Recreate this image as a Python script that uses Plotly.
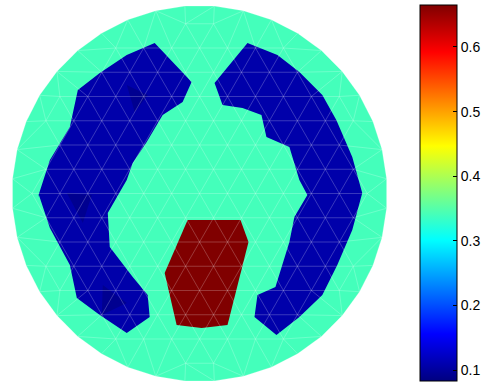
import numpy as np
import plotly.graph_objects as go
from plotly.colors import sample_colorscale

# ---- data (phantom coordinates: disk radius 188, centre at 0,0, y up) ----
disk_radius = 188
mesh_spacing = 28
boundary_nodes = 40

background_value = 0.34
lung_value = 0.107
dark_value = 0.092
heart_value = 0.665
cmin, cmax = 0.083, 0.665
tick_vals = [0.1, 0.2, 0.3, 0.4, 0.5, 0.6]
tick_text = ["0.1", "0.2", "0.3", "0.4", "0.5", "0.6"]

left_lung_x = [-45, -8, -17, -37, -53, -67, -73, -92, -90, -67, -52, -50, -73, -100, -123, -130, -150, -161, -162, -150, -130, -122, -100, -73]
left_lung_y = [150.5, 111.5, 91.5, 78.5, 51.5, 30.5, 13.5, -19.5, -53.5, -83.5, -101.5, -123.5, -139.5, -121.5, -104.5, -71.5, -34.5, -1.5, -3.5, 33.5, 66.5, 103.5, 120.5, 138.5]

right_lung_x = [48, 78, 100, 123, 137, 153, 163, 153, 138, 123, 100, 77, 55, 58, 76, 90, 95, 108, 100, 90, 67, 62, 43, 23, 15]
right_lung_y = [150.5, 138.5, 121.5, 98.5, 73.5, 36.5, 0.5, -36.5, -71.5, -101.5, -123.5, -141.5, -123.5, -101.5, -93.5, -48.5, -23.5, -1.5, 13.5, 46.5, 56.5, 78.5, 85.5, 88.5, 110.5]

heart_x = [-12, 41, 49, 28, 2, -23, -35]
heart_y = [-26.5, -26.5, -48.5, -131.5, -134.5, -131.5, -79.5]

dark_tris_x = [[-73, -52, -65], [-133, -108, -117], [-97, -73, -98]]
dark_tris_y = [[108.5, 98.5, 81.5], [0.5, -1.5, -29.5], [-91.5, -109.5, -121.5]]

# ---- colour scale (MATLAB-style jet) ----
jet = [[0.0, "rgb(0,0,128)"], [0.125, "rgb(0,0,255)"], [0.375, "rgb(0,255,255)"],
       [0.625, "rgb(255,255,0)"], [0.875, "rgb(255,0,0)"], [1.0, "rgb(128,0,0)"]]


def col(v):
    return sample_colorscale(jet, [(v - cmin) / (cmax - cmin)])[0]


# ---- mesh: hex lattice + boundary nodes, Delaunay (Bowyer-Watson) ----
h = mesh_spacing
pts = []
for j in range(-10, 11):
    yy = j * h * np.sqrt(3) / 2
    for i in range(-10, 11):
        xx = i * h + (j % 2) * h / 2
        if np.hypot(xx, yy) < disk_radius - 0.6 * h:
            pts.append((xx, yy))
for i in range(boundary_nodes):
    a = 2 * np.pi * i / boundary_nodes + np.pi / boundary_nodes
    pts.append((disk_radius * np.cos(a), disk_radius * np.sin(a)))
pts = np.array(pts)
# tiny deterministic perturbation to avoid degenerate cocircular sets
pts = pts + np.array([[1e-4 * (k % 7), 1e-4 * (k % 5)] for k in range(len(pts))])

P = list(map(tuple, pts))
S = 5000.0
P += [(-S, -S), (S, -S), (0.0, S)]
N = len(pts)


def circum(t):
    (ax, ay), (bx, by), (cx, cy) = P[t[0]], P[t[1]], P[t[2]]
    d = 2 * (ax * (by - cy) + bx * (cy - ay) + cx * (ay - by))
    ux = ((ax * ax + ay * ay) * (by - cy) + (bx * bx + by * by) * (cy - ay) + (cx * cx + cy * cy) * (ay - by)) / d
    uy = ((ax * ax + ay * ay) * (cx - bx) + (bx * bx + by * by) * (ax - cx) + (cx * cx + cy * cy) * (bx - ax)) / d
    return ux, uy, (ax - ux) ** 2 + (ay - uy) ** 2


tris = {(N, N + 1, N + 2): circum((N, N + 1, N + 2))}
for k in range(N):
    px, py = P[k]
    bad = [t for t, (ux, uy, r2) in tris.items() if (px - ux) ** 2 + (py - uy) ** 2 < r2]
    edges = {}
    for t in bad:
        for e in ((t[0], t[1]), (t[1], t[2]), (t[2], t[0])):
            key = tuple(sorted(e))
            edges[key] = edges.get(key, 0) + 1
        del tris[t]
    for (a, b), c in edges.items():
        if c == 1:
            t = (a, b, k)
            tris[t] = circum(t)

ex, ey = [], []
seen = set()
for t in tris:
    if max(t) >= N:
        continue
    for a, b in ((t[0], t[1]), (t[1], t[2]), (t[2], t[0])):
        key = (min(a, b), max(a, b))
        if key in seen:
            continue
        seen.add(key)
        ex.extend([P[a][0], P[b][0], None])
        ey.extend([P[a][1], P[b][1], None])

bnd = pts[-boundary_nodes:]
disk_x = list(bnd[:, 0])
disk_y = list(bnd[:, 1])

fig = go.Figure()


def poly(xs, ys, v):
    fig.add_trace(go.Scatter(x=list(xs) + [xs[0]], y=list(ys) + [ys[0]], mode="lines",
                             fill="toself", fillcolor=col(v), line=dict(width=0),
                             hoverinfo="skip", showlegend=False))


poly(disk_x, disk_y, background_value)
poly(left_lung_x, left_lung_y, lung_value)
poly(right_lung_x, right_lung_y, lung_value)
for tx, ty in zip(dark_tris_x, dark_tris_y):
    poly(tx, ty, dark_value)
poly(heart_x, heart_y, heart_value)

fig.add_trace(go.Scatter(x=ex, y=ey, mode="lines",
                         line=dict(color="rgba(255,255,255,0.28)", width=0.8),
                         hoverinfo="skip", showlegend=False))

# colour bar carrier
fig.add_trace(go.Scatter(
    x=[None], y=[None], mode="markers", showlegend=False,
    marker=dict(color=[cmin], cmin=cmin, cmax=cmax, colorscale=jet, showscale=True,
                colorbar=dict(x=420 / 485, xanchor="left", y=4 / 385, yanchor="bottom",
                              thickness=37, thicknessmode="pixels",
                              len=376, lenmode="pixels",
                              outlinecolor="black", outlinewidth=1,
                              tickvals=tick_vals, ticktext=tick_text,
                              ticks="inside", ticklen=4, tickcolor="black",
                              tickfont=dict(family="Liberation Sans, Arial", size=14, color="black"),
                              xpad=0, ypad=0))))

fig.update_layout(
    width=485, height=385, margin=dict(l=0, r=0, t=0, b=0),
    paper_bgcolor="white", plot_bgcolor="white",
    xaxis=dict(range=[-200, 285], visible=False, domain=[0, 1]),
    yaxis=dict(range=[-191.5, 193.5], visible=False, domain=[0, 1]),
)
fig.write_html("out.html")
